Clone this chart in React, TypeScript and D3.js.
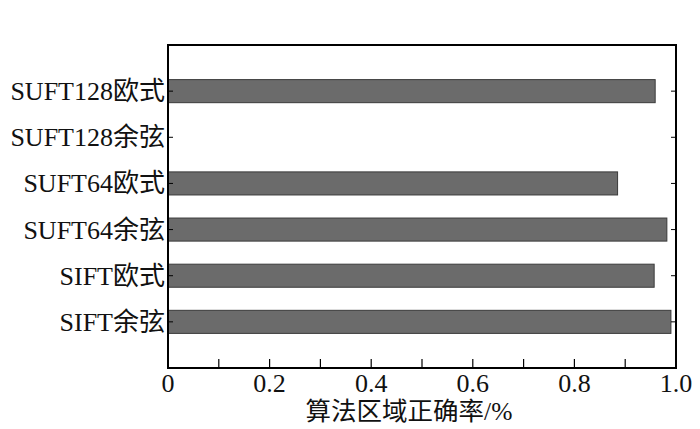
import React from "react";
import * as d3 from "d3";

const categories = ["SUFT128欧式", "SUFT128余弦", "SUFT64欧式", "SUFT64余弦", "SIFT欧式", "SIFT余弦"];
const values = [0.959, 0, 0.885, 0.982, 0.957, 0.99];
const xTicks = [0, 0.2, 0.4, 0.6, 0.8, 1.0];
const xTickLabels = ["0", "0.2", "0.4", "0.6", "0.8", "1.0"];
const minorTicks = [0.1, 0.2, 0.3, 0.4, 0.5, 0.6, 0.7, 0.8, 0.9];
const xTitle = "算法区域正确率/%";

const W = 700, H = 429;
const left = 168, right = 676, top = 45, bottom = 368;
const font = "'Liberation Serif', 'Times New Roman', 'Noto Sans CJK SC', serif";

export default function App() {
  const x = d3.scaleLinear().domain([0, 1]).range([left, right]);
  const y = d3.scalePoint<string>().domain(categories).range([top, bottom]).padding(1);
  const step = y.step();
  const barH = step * 0.5;
  return (
    <svg width={W} height={H} style={{ position: "absolute", left: 0, top: 0, background: "#fff" }}>
      {categories.map((c, i) =>
        values[i] > 0 ? (
          <rect key={c} x={x(0)} y={(y(c) as number) - barH / 2} width={x(values[i]) - x(0)} height={barH}
            fill="#6b6b6b" stroke="#3a3a3a" strokeWidth={1} />
        ) : null
      )}
      {categories.map((c) => (
        <g key={"t" + c}>
          <line x1={left} x2={left + 5} y1={y(c)} y2={y(c)} stroke="#000" strokeWidth={1} />
          <line x1={right - 5} x2={right} y1={y(c)} y2={y(c)} stroke="#000" strokeWidth={1} />
          <text x={left - 3} y={(y(c) as number) + 9} textAnchor="end" fontFamily={font} fontSize={26} fill="#111">{c}</text>
        </g>
      ))}
      {minorTicks.map((t) => (
        <line key={"m" + t} x1={x(t)} x2={x(t)} y1={bottom} y2={bottom - 9} stroke="#000" strokeWidth={1.2} />
      ))}
      <rect x={left} y={top} width={right - left} height={bottom - top} fill="none" stroke="#000" strokeWidth={2} />
      {xTicks.map((t, i) => (
        <text key={"x" + t} x={x(t)} y={392} textAnchor="middle" fontFamily={font} fontSize={26} fill="#111">{xTickLabels[i]}</text>
      ))}
      <text x={409} y={420} textAnchor="middle" fontFamily={font} fontSize={25.5} fill="#111">{xTitle}</text>
    </svg>
  );
}
